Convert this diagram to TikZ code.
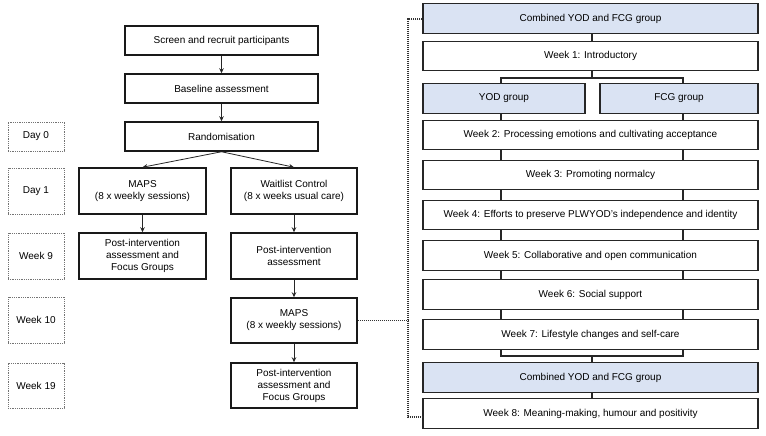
\documentclass[tikz,border=0pt]{standalone}
\usepackage{fontspec}
\setmainfont{Liberation Sans}
\usetikzlibrary{arrows.meta}
\definecolor{lblue}{HTML}{DAE3F3}
\tikzset{
  box/.style={draw=black!85, line width=1.3pt, align=center, inner sep=1pt, font=\fontsize{10}{12}\selectfont},
  lbox/.style={box, line width=1.5pt, draw=black!90},
  tbox/.style={draw=black!55, densely dotted, line width=0.8pt, align=center, font=\fontsize{10}{12}\selectfont, minimum width=56, inner sep=1pt},
  rbox/.style={box, minimum width=335, minimum height=29.5},
  gbox/.style={box, fill=lblue, minimum height=29.5},
  arr/.style={-{Stealth[length=5pt,width=4.5pt]}, line width=0.8pt, draw=black!85},
  con/.style={line width=1.2pt, draw=black!85},
  dotline/.style={dash pattern=on 1pt off 1pt, line width=1.2pt, draw=black!80}
}
\begin{document}
\begin{tikzpicture}[x=1pt,y=-1pt]
\useasboundingbox (0,0) rectangle (766,436);
% left column
\node[lbox, minimum width=193, minimum height=29] (screen) at (221.5,40.5) {Screen and recruit participants};
\node[lbox, minimum width=193, minimum height=29] (base) at (221.5,88.5) {Baseline assessment};
\node[lbox, minimum width=193, minimum height=29] (rand) at (221.5,136.5) {Randomisation};
\node[lbox, minimum width=127, minimum height=46] (maps1) at (142.5,191) {MAPS\\(8 x weekly sessions)};
\node[lbox, minimum width=126, minimum height=46] (wait) at (294,191) {Waitlist Control\\(8 x weeks usual care)};
\node[lbox, minimum width=127, minimum height=46] (post1) at (142.5,256) {Post-intervention\\assessment and\\Focus Groups};
\node[lbox, minimum width=126, minimum height=46] (post2) at (294,256) {Post-intervention\\assessment};
\node[lbox, minimum width=126, minimum height=45] (maps2) at (294,320.5) {MAPS\\(8 x weekly sessions)};
\node[lbox, minimum width=126, minimum height=45] (post3) at (294,385.5) {Post-intervention\\assessment and\\Focus Groups};
% time labels
\node[tbox, minimum height=29] (d0) at (36,136.5) {Day 0};
\node[tbox, minimum height=46] (d1) at (36,191) {Day 1};
\node[tbox, minimum height=46] (w9) at (36,256) {Week 9};
\node[tbox, minimum height=46] (w10) at (36,320) {Week 10};
\node[tbox, minimum height=45] (w19) at (36,385.5) {Week 19};
% arrows
\draw[arr] (screen.south) -- (base.north);
\draw[arr] (base.south) -- (rand.north);
\draw[arr] (rand.south) -- (maps1.north);
\draw[arr] (rand.south) -- (wait.north);
\draw[arr] (maps1.south) -- (post1.north);
\draw[arr] (wait.south) -- (post2.north);
\draw[arr] (post2.south) -- (maps2.north);
\draw[arr] (maps2.south) -- (post3.north);
% right column
\node[gbox, minimum width=335] (comb1) at (590.5,18.5) {Combined YOD and FCG group};
\node[rbox] (wk1) at (590.5,56) {Week 1: Introductory};
\node[gbox, minimum width=162] (yod) at (504,98.5) {YOD group};
\node[gbox, minimum width=158] (fcg) at (679,98.5) {FCG group};
\node[rbox] (wk2) at (590.5,135) {Week 2: Processing emotions and cultivating acceptance};
\node[rbox] (wk3) at (590.5,175) {Week 3: Promoting normalcy};
\node[rbox] (wk4) at (590.5,215) {Week 4: Efforts to preserve PLWYOD’s independence and identity};
\node[rbox] (wk5) at (590.5,255.5) {Week 5: Collaborative and open communication};
\node[rbox] (wk6) at (590.5,294.5) {Week 6: Social support};
\node[rbox] (wk7) at (590.5,334.5) {Week 7: Lifestyle changes and self-care};
\node[gbox, minimum width=335] (comb2) at (590.5,377.5) {Combined YOD and FCG group};
\node[rbox] (wk8) at (590.5,413.5) {Week 8: Meaning-making, humour and positivity};
% right connectors
\draw[con] (comb1.south -| 592,0) -- (wk1.north -| 592,0);
\coordinate (sa) at (592,78);
\draw[con] (wk1.south -| sa) -- (sa);
\draw[con] (yod.north -| 501,0) |- (sa) -| (fcg.north -| 683,0);
\foreach \a/\b in {yod/wk2,wk2/wk3,wk3/wk4,wk4/wk5,wk5/wk6,wk6/wk7}{
  \draw[con] (\a.south -| 501,0) -- (\b.north -| 501,0);
}
\foreach \a/\b in {fcg/wk2,wk2/wk3,wk3/wk4,wk4/wk5,wk5/wk6,wk6/wk7}{
  \draw[con] (\a.south -| 683,0) -- (\b.north -| 683,0);
}
\coordinate (sb) at (592,356);
\draw[con] (wk7.south -| 501,0) |- (sb) -| (wk7.south -| 683,0);
\draw[con] (sb) -- (comb2.north -| sb);
\draw[con] (comb2.south -| sb) -- (wk8.north -| sb);
% dotted link
\coordinate (dtop) at (408,19);
\coordinate (dbot) at (408,417);
\draw[dotline] (maps2.east) -- (maps2.east -| dtop);
\draw[dotline] (comb1.west |- dtop) -- (dtop) -- (dbot) -- (wk8.west |- dbot);
\end{tikzpicture}
\end{document}
